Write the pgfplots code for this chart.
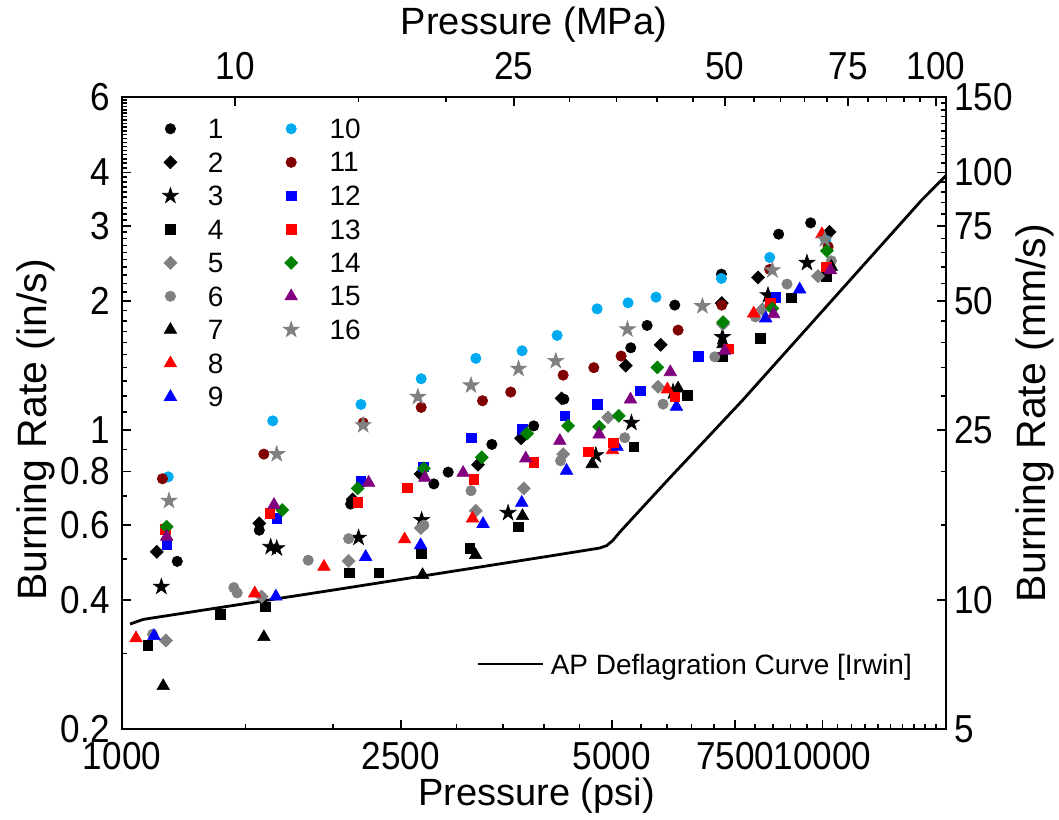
\documentclass[border=0pt]{standalone}
\usepackage{fontspec}
\setmainfont{Liberation Sans}
\newfontfamily\tickfont{Liberation Sans}[FakeStretch=0.9]
\usepackage{pgfplots}
\pgfplotsset{compat=1.18}
\definecolor{lblue}{RGB}{0,170,240}
\definecolor{dred}{RGB}{128,0,0}
\definecolor{dgreen}{RGB}{0,128,0}
\definecolor{purp}{RGB}{128,0,128}
\definecolor{gry}{RGB}{128,128,128}
\pgfdeclareplotmark{fstar}{%
  \pgfpathmoveto{\pgfpointpolar{90}{\pgfplotmarksize}}%
  \pgfpathlineto{\pgfpointpolar{126}{0.382\pgfplotmarksize}}%
  \pgfpathlineto{\pgfpointpolar{162}{\pgfplotmarksize}}%
  \pgfpathlineto{\pgfpointpolar{198}{0.382\pgfplotmarksize}}%
  \pgfpathlineto{\pgfpointpolar{234}{\pgfplotmarksize}}%
  \pgfpathlineto{\pgfpointpolar{270}{0.382\pgfplotmarksize}}%
  \pgfpathlineto{\pgfpointpolar{306}{\pgfplotmarksize}}%
  \pgfpathlineto{\pgfpointpolar{342}{0.382\pgfplotmarksize}}%
  \pgfpathlineto{\pgfpointpolar{18}{\pgfplotmarksize}}%
  \pgfpathlineto{\pgfpointpolar{54}{0.382\pgfplotmarksize}}%
  \pgfpathclose
  \pgfusepathqfillstroke
}
\tikzset{
  circ/.style={only marks, mark=*, mark size=2.6bp, mark options={solid, line width=0.3bp}},
  diam/.style={only marks, mark=square*, mark size=2.3bp, mark options={solid, line width=0.3bp, rotate=45}},
  starm/.style={only marks, mark=fstar, mark size=4.2bp, mark options={solid, line width=0.3bp}},
  sq/.style={only marks, mark=square*, mark size=2.4bp, mark options={solid, line width=0.3bp}},
  tri/.style={only marks, mark=triangle*, mark size=3.6bp, mark options={solid, line width=0.3bp}},
}
\begin{document}
\begin{tikzpicture}
\useasboundingbox (-61bp,-45.5bp) rectangle (468.5bp,364.5bp);
% curve axis
\begin{axis}[at={(0,0)}, anchor=south west, width=412bp, height=316bp, scale only axis,
  xmode=log, ymode=log,
  xmin=1000, xmax=15000, ymin=0.2, ymax=6, hide axis,
  legend image code/.code={\draw[#1] (0bp,0bp) -- (32.5bp,0bp);},
  legend cell align=left,
  legend style={at={(rel axis cs:0.4308,0.1028)}, anchor=west, draw=none, fill=none,
    inner sep=0pt, outer sep=0pt, font=\fontsize{14bp}{16bp}\selectfont,
    nodes={inner sep=0pt, text depth=0pt},
    /tikz/column 1/.style={column sep=3bp}},
]
\addplot[black, line width=1.4bp] coordinates {
(1026.6,0.3518) (1072.4,0.3608) (2046,0.4248) (4079,0.5073) (4807,0.5296)
(4919,0.5368) (5017,0.5515) (5134,0.5771) (6010,0.7636) (7690,1.174)
(13843,3.444) (15000,3.93)};
\addlegendentry{AP Deflagration Curve [Irwin]}
\end{axis}
% data axis
\begin{axis}[at={(0,0)}, anchor=south west, width=412bp, height=316bp, scale only axis,
  xmode=log, ymode=log,
  tick align=inside, major tick length=4.5bp, minor tick length=2.3bp,
  every tick/.style={black, line width=0.8bp},
  axis line style={line width=1bp},
  tick label style={font=\tickfont\fontsize{19.5bp}{21bp}\selectfont},
  xmin=1000, xmax=15000, ymin=0.2, ymax=6,
  xtick={1000,2500,5000,7500,10000}, xticklabels={1000,2500,5000,7500,10000},
  minor xtick={1500,2000,3000,3500,4000,4500,5500,6000,6500,7000,8000,8500,9000,9500,10500,11000,11500,12000,12500,13000,13500,14000,14500},
  ytick={0.2,0.4,0.6,0.8,1,2,3,4,6}, yticklabels={0.2,0.4,0.6,0.8,1,2,3,4,6},
  minor ytick={0.3,0.5,0.7,0.9,1.1,1.2,1.3,1.4,1.5,1.6,1.7,1.8,1.9,2.1,2.2,2.3,2.4,2.5,2.6,2.7,2.8,2.9,3.1,3.2,3.3,3.4,3.5,3.6,3.7,3.8,3.9,4.1,4.2,4.3,4.4,4.5,4.6,4.7,4.8,4.9,5,5.1,5.2,5.3,5.4,5.5,5.6,5.7,5.8,5.9},
  xtick pos=left, ytick pos=left, xticklabel pos=left, yticklabel pos=left,
  xticklabel style={anchor=north, inner sep=0pt, yshift=-6.3bp},
  yticklabel style={anchor=east, inner sep=0pt, xshift=-6bp},
  xlabel={Pressure (psi)}, ylabel={Burning Rate (in/s)},
  every axis x label/.style={at={(axis description cs:0.503,0)}, anchor=base, yshift=-38bp, font=\fontsize{19bp}{22bp}\selectfont},
  every axis y label/.style={at={(axis description cs:-0.1044,0.473)}, rotate=90, anchor=center, font=\fontsize{20.5bp}{23bp}\selectfont},
  legend columns=2,
  legend cell align=left,
  legend image code/.code={\path (0bp,0bp) (20bp,0bp); \draw[mark repeat=2,mark phase=2,#1] plot coordinates {(0bp,0bp) (10bp,0bp) (20bp,0bp)};},
  legend style={at={(rel axis cs:0,1)}, anchor=north west, xshift=14bp, yshift=-11bp,
    draw=none, fill=none, inner sep=0pt, outer sep=0pt, row sep=7bp,
    font=\fontsize{14bp}{16bp}\selectfont,
    nodes={inner sep=0pt, text depth=0pt},
    /tikz/column 1/.style={column sep=8.5bp},
    /tikz/column 2/.style={column sep=23.7bp},
    /tikz/column 3/.style={column sep=9bp}},
]
\addplot[circ, black, forget plot] coordinates {(1199,0.493) (1570,0.583) (2120,0.671) (2787,0.748) (2921,0.797) (3372,0.925) (3870,1.022) (4272,1.180) (5323,1.556) (5616,1.755) (6151,1.958) (7170,2.312) (8653,2.868) (9614,3.048)};
\addplot[diam, black, forget plot] coordinates {(1121,0.519) (1570,0.605) (2134,0.688) (2668,0.789) (3222,0.829) (3712,0.956) (4240,1.185) (5236,1.413) (5873,1.581) (7177,1.979) (8087,2.272) (10230,2.904)};
\addplot[starm, black, forget plot] coordinates {(1138,0.430) (1630,0.533) (1663,0.529) (2176,0.560) (2677,0.616) (3557,0.640) (4745,0.873) (5335,1.039) (6116,1.228) (7194,1.648) (8356,2.065) (9497,2.458)};
\addplot[sq, black, forget plot] coordinates {(1089,0.314) (1380,0.371) (1603,0.386) (2110,0.464) (2326,0.464) (2673,0.515) (3137,0.529) (3681,0.594) (5375,0.913) (6404,1.206) (7194,1.482) (8149,1.636) (9023,2.036) (10120,2.288)};
\addplot[diam, gry, forget plot] coordinates {(1155,0.322) (1582,0.408) (2106,0.494) (2670,0.590) (3199,0.647) (3745,0.730) (4262,0.878) (4940,1.070) (5822,1.261) (7208,1.767) (8204,1.913) (9847,2.288)};
\addplot[circ, gry, forget plot] coordinates {(1106,0.333) (1444,0.428) (1460,0.416) (1844,0.496) (2106,0.557) (2697,0.599) (3149,0.721) (4226,0.847) (5219,0.959) (5919,1.149) (7015,1.482) (8017,1.838) (8895,2.192) (10290,2.485)};
\addplot[tri, black, forget plot] coordinates {(1145,0.252) (1594,0.328) (2685,0.458) (3196,0.510) (3729,0.629) (4688,0.832) (6218,1.250) (7208,1.587) (10290,2.406)};
\addplot[tri, red, forget plot] coordinates {(1047,0.326) (1547,0.415) (1942,0.479) (2531,0.555) (3164,0.621) (5012,0.897) (6004,1.244) (7972,1.872) (9977,2.868)};
\addplot[tri, blue, forget plot] coordinates {(1111,0.330) (1658,0.408) (2227,0.505) (2668,0.538) (3276,0.603) (3720,0.676) (4310,0.803) (5088,0.913) (6185,1.133) (8292,1.823) (9273,2.130)};
\addplot[circ, lblue, forget plot] coordinates {(1164,0.777) (1641,1.050) (2193,1.147) (2673,1.317) (3199,1.470) (3724,1.531) (4178,1.663) (4765,1.919) (5276,1.982) (5783,2.043) (7170,2.260) (8403,2.530) (10100,2.776)};
\addplot[circ, dred, forget plot] coordinates {(1142,0.769) (1594,0.878) (2209,1.039) (2673,1.129) (3270,1.170) (3588,1.226) (4262,1.343) (4714,1.398) (5156,1.488) (6218,1.711) (7177,1.958) (8403,2.372) (10180,2.680)};
\addplot[sq, blue, forget plot] coordinates {(1158,0.541) (1663,0.621) (2191,0.759) (2691,0.820) (3153,0.959) (3729,1.003) (4285,1.079) (4765,1.149) (5495,1.234) (6640,1.488) (8570,2.040)};
\addplot[sq, red, forget plot] coordinates {(1152,0.586) (1626,0.638) (2169,0.677) (2556,0.733) (3178,0.766) (3870,0.840) (4627,0.889) (5022,0.933) (6151,1.195) (7328,1.549) (8422,1.982) (10120,2.406)};
\addplot[diam, dgreen, forget plot] coordinates {(1158,0.594) (1693,0.650) (2169,0.730) (2697,0.813) (3263,0.863) (3786,0.981) (4332,1.022) (4797,1.017) (5117,1.079) (5809,1.400) (7208,1.786) (8477,1.923) (10140,2.622)};
\addplot[tri, purp, forget plot] coordinates {(1158,0.563) (1648,0.668) (2249,0.753) (2705,0.773) (3068,0.794) (3770,0.858) (4216,0.943) (4797,0.976) (5318,1.178) (6062,1.365) (7248,1.531) (8512,1.865) (10260,2.362)};
\addplot[starm, gry, forget plot] coordinates {(1167,0.683) (1663,0.878) (2209,1.026) (2644,1.195) (3149,1.271) (3681,1.390) (4160,1.449) (5265,1.718) (6736,1.947) (8477,2.362) (10070,2.788)};
\addlegendimage{circ, black}\addlegendentry{1}
\addlegendimage{circ, lblue}\addlegendentry{10}
\addlegendimage{diam, black}\addlegendentry{2}
\addlegendimage{circ, dred}\addlegendentry{11}
\addlegendimage{starm, black}\addlegendentry{3}
\addlegendimage{sq, blue}\addlegendentry{12}
\addlegendimage{sq, black}\addlegendentry{4}
\addlegendimage{sq, red}\addlegendentry{13}
\addlegendimage{diam, gry}\addlegendentry{5}
\addlegendimage{diam, dgreen}\addlegendentry{14}
\addlegendimage{circ, gry}\addlegendentry{6}
\addlegendimage{tri, purp}\addlegendentry{15}
\addlegendimage{tri, black}\addlegendentry{7}
\addlegendimage{starm, gry}\addlegendentry{16}
\addlegendimage{tri, red}\addlegendentry{8}
\addlegendimage{empty legend}\addlegendentry{}
\addlegendimage{tri, blue}\addlegendentry{9}
\addlegendimage{empty legend}\addlegendentry{}
\end{axis}
% secondary axis (MPa, mm/s)
\begin{axis}[at={(0,0)}, anchor=south west, width=412bp, height=316bp, scale only axis,
  xmode=log, ymode=log,
  tick align=inside, major tick length=4.5bp, minor tick length=2.3bp,
  every tick/.style={black, line width=0.8bp},
  axis line style={line width=1bp},
  tick label style={font=\tickfont\fontsize{19.5bp}{21bp}\selectfont},
  xmin=6.89476, xmax=103.421, ymin=5, ymax=150,
  xtick={10,25,50,75,100}, xticklabels={10,25,50,75,100},
  minor xtick={15,20,30,35,40,45,55,60,65,70,80,85,90,95},
  ytick={5,10,25,50,75,100,150}, yticklabels={5,10,25,50,75,100,150},
  minor ytick={15,20,30,35,40,45,55,60,65,70,80,85,90,95,105,110,115,120,125,130,135,140,145},
  xtick pos=right, ytick pos=right, xticklabel pos=right, yticklabel pos=right,
  xticklabel style={anchor=south, inner sep=0pt, yshift=8.5bp},
  yticklabel style={anchor=west, inner sep=0pt, xshift=4bp},
  xlabel={Pressure (MPa)}, ylabel={Burning Rate (mm/s)},
  every axis x label/.style={at={(axis description cs:0.5,1)}, anchor=base, yshift=31bp, font=\fontsize{19bp}{22bp}\selectfont},
  every axis y label/.style={at={(axis description cs:1.108,0.5)}, rotate=90, anchor=center, font=\fontsize{20.5bp}{23bp}\selectfont},
]
\addplot[draw=none, forget plot] coordinates {(10,10)};
\end{axis}
\end{tikzpicture}
\end{document}
